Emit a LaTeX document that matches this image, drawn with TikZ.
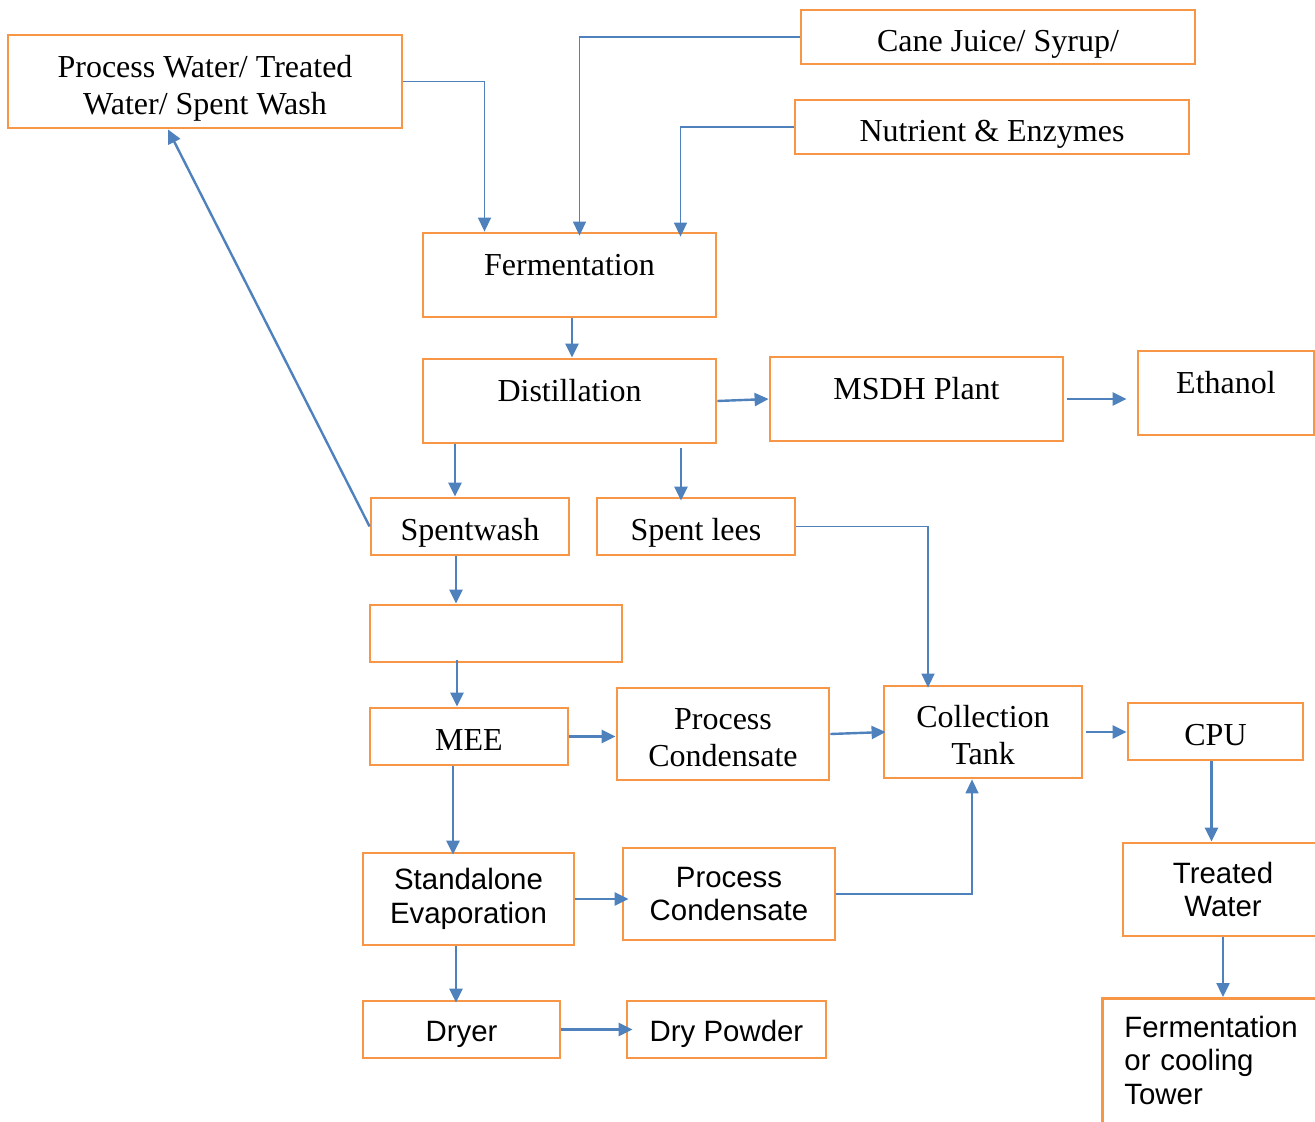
\documentclass[tikz,border=0pt]{standalone}
\usepackage{fontspec}
\setmainfont{Liberation Serif}
\newfontfamily\arialfont{Liberation Sans}
\usetikzlibrary{arrows.meta}
\definecolor{boxorange}{HTML}{F79646}
\definecolor{lineblue}{HTML}{4F81BD}

\begin{document}
\begin{tikzpicture}[x=1pt,y=-1pt,
 unit/.style={rectangle,draw=boxorange,line width=2.8pt,inner sep=0pt,align=center,
   font=\fontsize{32}{37}\selectfont,text height=32pt,text depth=4pt},
 pair/.style={text height=70pt,text depth=5pt},
 raised/.style={text height=20pt,text depth=20pt},
 unitsf/.style={rectangle,draw=boxorange,line width=2.8pt,inner sep=0pt,align=center,
   font=\arialfont\fontsize{29.4}{33.5}\selectfont},
 sfone/.style={text height=27pt,text depth=4pt},
 flow/.style={draw=lineblue,line width=2.4pt,-{Triangle[length=14pt,width=13pt]}},
 feed/.style={flow,line width=1.5pt}]
\useasboundingbox (0,0) rectangle (1315,1122);
\clip (0,0) rectangle (1315,1122);
% sources
\node[unit,pair,minimum width=394,minimum height=93] (pw) at (205,81.5) {Process Water/ Treated\\Water/ Spent Wash};
\node[unit,minimum width=394,minimum height=54] (cane) at (998,37) {Cane Juice/ Syrup/};
\node[unit,minimum width=394,minimum height=54] (nutr) at (992,127) {Nutrient \& Enzymes};
% main line
\node[unit,raised,minimum width=293,minimum height=84] (ferm) at (569.5,275) {Fermentation};
\node[unit,raised,minimum width=293,minimum height=84] (dist) at (569.5,401) {Distillation};
\node[unit,raised,minimum width=293,minimum height=84] (msdh) at (916.5,399) {MSDH Plant};
\node[unit,raised,minimum width=176,minimum height=84] (eth) at (1226,393) {Ethanol};
\node[unit,minimum width=198,minimum height=57] (spw) at (470,526.5) {Spentwash};
\node[unit,minimum width=198,minimum height=57] (lees) at (696,526.5) {Spent lees};
\node[unit,minimum width=252,minimum height=57] (blank) at (496,633.5) {};
\node[unit,minimum width=198,minimum height=57] (mee) at (469,736.5) {MEE};
\node[unit,pair,minimum width=212,minimum height=92] (pc1) at (723,734) {Process\\Condensate};
\node[unit,pair,minimum width=198,minimum height=92] (coll) at (983,732) {Collection\\Tank};
\node[unit,minimum width=175,minimum height=57] (cpu) at (1215.5,731.5) {CPU};
% sans part
\node[unitsf,minimum width=211,minimum height=92] (sae) at (468.5,899) {Standalone\\Evaporation};
\node[unitsf,minimum width=212,minimum height=92] (pc2) at (729,894) {Process\\Condensate};
\node[unitsf,minimum width=200,minimum height=93] (tw) at (1223,889.5) {Treated\\Water};
\node[unitsf,sfone,minimum width=197,minimum height=57] (dryer) at (461.5,1029.5) {Dryer};
\node[unitsf,sfone,minimum width=199,minimum height=57] (powder) at (726.5,1029.5) {Dry Powder};
\node[unitsf,anchor=north west,align=left,text width=190,inner xsep=22pt,inner ysep=0pt,
  text height=39pt,text depth=110pt] (tower) at (1101,997) {Fermentation\\or cooling\\Tower};
% connectors
\draw[feed] (pw.east) -| ([xshift=-85pt]ferm.north);
\draw[feed] (cane.west) -| ([xshift=10pt,yshift=-4pt]ferm.north);
\draw[feed] (nutr.west) -| ([xshift=111pt,yshift=-5pt]ferm.north);
\draw[flow] ([xshift=2.5pt]ferm.south) -- ([xshift=2.5pt]dist.north);
\draw[flow] (dist.east) -- (msdh.west);
\draw[flow] ([xshift=3pt]msdh.east) -- ([xshift=-10pt]msdh.east -| eth.west);
\draw[flow] ([xshift=-15pt]spw.north |- dist.south) -- ([xshift=-15pt]spw.north);
\draw[flow] ([xshift=-15pt,yshift=-4pt]lees.north |- dist.south) -- ([xshift=-15pt,yshift=-4pt]lees.north);
\draw[flow] (spw.west) -- ([xshift=-37pt]pw.south);
\draw[flow] ([xshift=-14pt]spw.south) -- ([xshift=-14pt]spw.south |- blank.north);
\draw[feed] (lees.east) -| ([xshift=-55pt,yshift=-3pt]coll.north);
\draw[flow] ([xshift=-12pt,yshift=3pt]mee.north |- blank.south) -- ([xshift=-12pt]mee.north);
\draw[flow] (mee.east) -- (mee.east -| pc1.west);
\draw[flow] ([xshift=-16pt]mee.south) -- ([xshift=-16pt,yshift=-3pt]mee.south |- sae.north);
\draw[flow] (pc1.east) -- ([xshift=3pt]coll.west);
\draw[flow] ([xshift=3pt]coll.east) -- (coll.east -| cpu.west);
\draw[flow] ([xshift=-4pt]cpu.south) -- ([xshift=-4pt]cpu.south |- tw.north);
\draw[flow] (sae.east) -- ([xshift=7pt]sae.east -| pc2.west);
\draw[feed] (pc2.east) -| ([xshift=-11pt]coll.south);
\draw[flow] ([xshift=-12.5pt]sae.south) -- ([xshift=-12.5pt,yshift=-3pt]sae.south |- dryer.north);
\draw[flow] (dryer.east) -- ([xshift=7pt]powder.west);
\draw[flow] (tw.south) -- (tw.south |- tower.north);
\end{tikzpicture}
\end{document}
